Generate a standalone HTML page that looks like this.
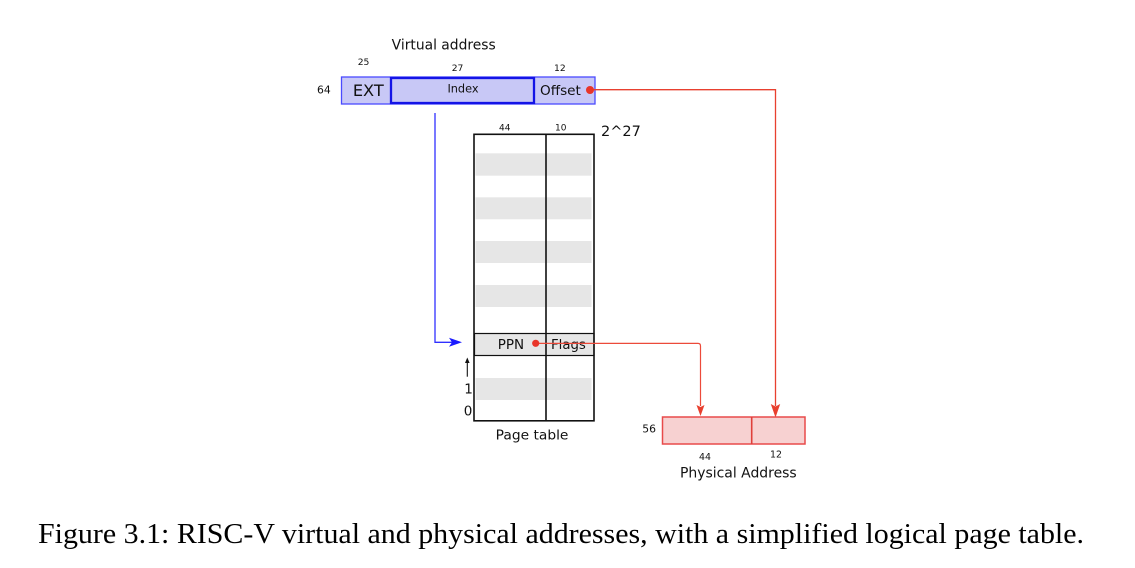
<!DOCTYPE html>
<html>
<head>
<meta charset="utf-8">
<style>
  html,body{margin:0;padding:0;background:#fff;}
  svg{display:block;}
  .s{font-family:"DejaVu Sans","Liberation Sans",sans-serif;fill:#111;}
  .c{font-family:"Liberation Serif","Times New Roman",serif;fill:#000;}
</style>
</head>
<body>
<svg width="1135" height="568" viewBox="0 0 1135 568" xmlns="http://www.w3.org/2000/svg">
  <rect x="0" y="0" width="1135" height="568" fill="#fff"/>

  <!-- Virtual address -->
  <text class="s" x="391.7" y="49.3" font-size="13.8" textLength="104" lengthAdjust="spacingAndGlyphs">Virtual address</text>
  <text class="s" x="357.7" y="65" font-size="9.2">25</text>
  <text class="s" x="451.7" y="71" font-size="9.2">27</text>
  <text class="s" x="554" y="71" font-size="9.2">12</text>
  <text class="s" x="317" y="93.3" font-size="10.8">64</text>

  <rect x="341.5" y="77" width="253.5" height="27" fill="#c8c8f6" stroke="#4a4aff" stroke-width="1.3"/>
  <rect x="391" y="78" width="143" height="25" fill="none" stroke="#1414e6" stroke-width="2.3"/>
  <text class="s" x="368.3" y="96" font-size="16.2" text-anchor="middle">EXT</text>
  <text class="s" x="463" y="92.7" font-size="11.3" text-anchor="middle">Index</text>
  <text class="s" x="540" y="95" font-size="13.6">Offset</text>

  <!-- Offset red connector -->
  <path d="M590 89.7 H775.5 V406" fill="none" stroke="#e8402f" stroke-width="1.3"/>
  <path d="M770.8 404 L775.5 417.5 L780.2 404 L775.5 406.5 Z" fill="#e8402f"/>
  <circle cx="590" cy="90" r="4" fill="#e8352a"/>

  <!-- Blue connector -->
  <path d="M435 113 V342.3 H452" fill="none" stroke="#3030ff" stroke-width="1.3"/>
  <path d="M449 337.8 L462 342.3 L449 346.8 L452 342.3 Z" fill="#1a1aff"/>

  <!-- Page table -->
  <text class="s" x="499" y="130.7" font-size="9">44</text>
  <text class="s" x="555" y="130.7" font-size="9">10</text>
  <text class="s" x="601" y="136" font-size="14.5">2^27</text>

  <g fill="#e6e6e6">
    <rect x="475.5" y="153.3" width="116" height="22.4"/>
    <rect x="475.5" y="197.3" width="116" height="22"/>
    <rect x="475.5" y="241" width="116" height="22"/>
    <rect x="475.5" y="285" width="116" height="22"/>
    <rect x="475.5" y="378" width="116" height="22"/>
  </g>
  <rect x="474.5" y="333.5" width="119.5" height="22" fill="#e6e6e6" stroke="#111" stroke-width="1.2"/>
  <rect x="474" y="134.3" width="120" height="286.5" fill="none" stroke="#111" stroke-width="1.6"/>
  <line x1="546" y1="134" x2="546" y2="421" stroke="#111" stroke-width="1.6"/>

  <text class="s" x="497.7" y="349" font-size="13.5">PPN</text>
  <text class="s" x="551" y="349" font-size="13.3">Flags</text>

  <!-- PPN red connector -->
  <path d="M536 343.4 H698 Q700.5 343.4 700.5 346 V406" fill="none" stroke="#ec4a3a" stroke-width="1.2"/>
  <path d="M696.5 405 L700.5 416 L704.5 405 L700.5 407 Z" fill="#e8402f"/>
  <circle cx="535.7" cy="343.3" r="3.6" fill="#e8352a"/>

  <!-- up arrow and indices -->
  <line x1="467.3" y1="376.7" x2="467.3" y2="361" stroke="#111" stroke-width="1.1"/>
  <path d="M465 363 L467.3 357.5 L469.6 363 Z" fill="#111"/>
  <text class="s" x="464.3" y="393.3" font-size="13.5">1</text>
  <text class="s" x="463.8" y="415.7" font-size="13.5">0</text>

  <text class="s" x="495.7" y="439.3" font-size="13.7" textLength="72.7" lengthAdjust="spacingAndGlyphs">Page table</text>

  <!-- Physical address -->
  <rect x="662.5" y="417" width="142.5" height="27" fill="#f7d1d1" stroke="#e84a4a" stroke-width="1.5"/>
  <line x1="751.7" y1="417" x2="751.7" y2="444" stroke="#e0403a" stroke-width="1.6"/>
  <text class="s" x="642.3" y="432.3" font-size="10.8">56</text>
  <text class="s" x="699" y="460" font-size="9.4">44</text>
  <text class="s" x="770" y="457.7" font-size="9.4">12</text>
  <text class="s" x="680" y="477.3" font-size="13.9" textLength="116.7" lengthAdjust="spacingAndGlyphs">Physical Address</text>

  <!-- Caption -->
  <text class="c" x="38" y="543" font-size="29" textLength="1046" lengthAdjust="spacingAndGlyphs">Figure 3.1: RISC-V virtual and physical addresses, with a simplified logical page table.</text>
</svg>
</body>
</html>
